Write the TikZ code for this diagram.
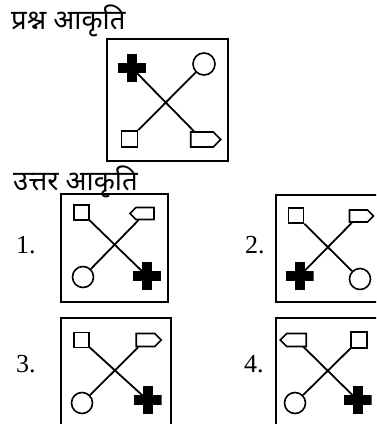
\documentclass[tikz,border=0pt]{standalone}
\usepackage{fontspec}
\newfontfamily\hindi[Script=Devanagari]{Noto Sans}
\newfontfamily\numfont{Liberation Serif}
\usetikzlibrary{shapes.symbols}
\tikzset{
  frame/.style={draw, line width=2pt},
  link/.style={line width=1.8pt},
  ring/.style={circle, draw, line width=1.6pt, minimum size=21pt, inner sep=0pt},
  sq/.style={rectangle, draw, line width=1.6pt, minimum size=15pt, inner sep=0pt},
  tagR/.style={signal, signal to=east, signal from=nowhere, draw, line width=1.6pt, minimum width=24pt, minimum height=12pt, inner sep=0pt},
  tagL/.style={signal, signal to=west, signal from=nowhere, draw, line width=1.6pt, minimum width=24pt, minimum height=12pt, inner sep=0pt},
  plus/.style={rectangle, minimum size=28pt, inner sep=0pt,
    path picture={
      \fill ([xshift=-14pt,yshift=-5pt]path picture bounding box.center) rectangle ([xshift=14pt,yshift=5pt]path picture bounding box.center);
      \fill ([xshift=-5pt,yshift=-14pt]path picture bounding box.center) rectangle ([xshift=5pt,yshift=14pt]path picture bounding box.center);
    }},
  head/.style={anchor=base west, inner sep=0pt, font=\hindi\fontsize{27.5}{32}\selectfont},
  num/.style={anchor=base west, inner sep=0pt, font=\numfont\fontsize{26}{30}\selectfont}
}
\begin{document}
\begin{tikzpicture}[x=1pt,y=-1pt]
\useasboundingbox (0,0) rectangle (376,424);
\clip (0,0) rectangle (376,424);
\fill[white] (0,0) rectangle (376,424);

% headings
\node[head] (h1) at (11,29) {प्रश्न आकृति};
\node[head] (h2) at (13,190) {उत्तर आकृति};

% question figure
\draw[frame] (107,39) rectangle (228,161);
\node[plus] (qp) at (132,68) {};
\node[ring, minimum size=22pt] (qc) at (204,64) {};
\node[sq, minimum size=16pt] (qs) at (129.5,139) {};
\node[tagR, minimum width=30pt, minimum height=15pt] (qt) at (202,139.5) {};
\draw[link] (qp.center) -- (qt);
\draw[link] (qc) -- (qs);

% answer 1
\node[num] (n1) at (16,253) {1.};
\draw[frame] (61,194) rectangle (168,302);
\node[sq] (a1s) at (81.5,212.5) {};
\node[tagL] (a1t) at (145,213.5) {};
\node[ring] (a1c) at (83,277) {};
\node[plus] (a1p) at (147,276) {};
\draw[link] (a1s) -- (a1p.center);
\draw[link] (a1t) -- (a1c);

% answer 2
\node[num] (n2) at (245,253) {2.};
\draw[frame] (276,195) rectangle (384,302);
\node[sq] (a2s) at (296,215.5) {};
\node[tagR] (a2t) at (358.5,216) {};
\node[plus] (a2p) at (299.5,276) {};
\node[ring] (a2c) at (360,279) {};
\draw[link] (a2s) -- (a2c);
\draw[link] (a2t) -- (a2p.center);

% answer 3
\node[num] (n3) at (16,372) {3.};
\draw[frame] (61,318) rectangle (171,428);
\node[sq] (a3s) at (81.5,340) {};
\node[tagR, minimum width=25pt, minimum height=13pt] (a3t) at (145.5,340) {};
\node[ring] (a3c) at (82,403) {};
\node[plus] (a3p) at (147.5,400) {};
\draw[link] (a3s) -- (a3p.center);
\draw[link] (a3t) -- (a3c);

% answer 4
\node[num] (n4) at (244,372) {4.};
\draw[frame] (276,318) rectangle (386,428);
\node[tagL, minimum width=26pt, minimum height=13pt] (a4t) at (296.5,340) {};
\node[sq, minimum size=16pt] (a4s) at (359,340) {};
\node[ring] (a4c) at (295,403) {};
\node[plus] (a4p) at (357.5,400) {};
\draw[link] (a4t) -- (a4p.center);
\draw[link] (a4s) -- (a4c);
\end{tikzpicture}
\end{document}
